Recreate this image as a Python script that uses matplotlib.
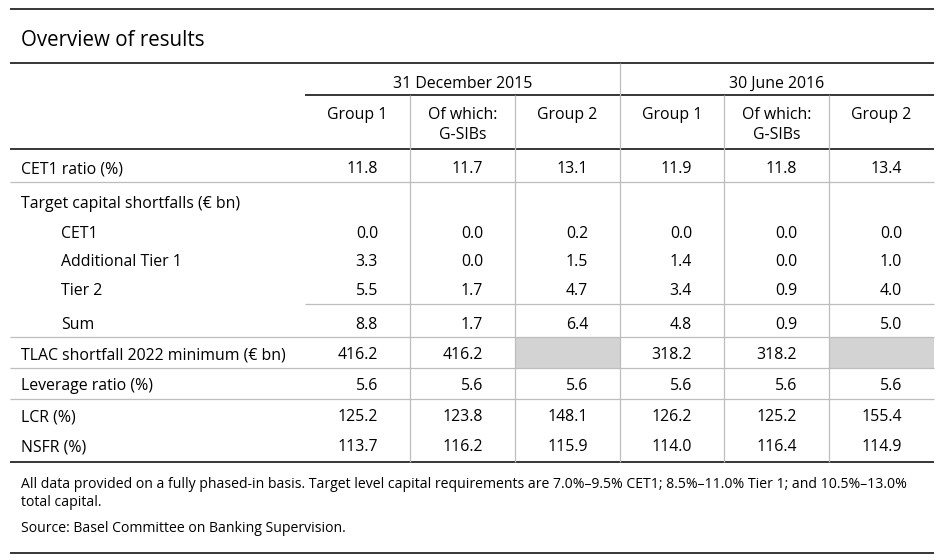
import matplotlib.pyplot as plt

plt.rcParams['font.family'] = ['Open Sans', 'DejaVu Sans']

# data
title = "Overview of results"
periods = ["31 December 2015", "30 June 2016"]
groups = ["Group 1", "Of which:\nG-SIBs", "Group 2"]
row_labels = ["CET1 ratio (%)", "Target capital shortfalls (€ bn)", "CET1",
              "Additional Tier 1", "Tier 2", "Sum",
              "TLAC shortfall 2022 minimum (€ bn)", "Leverage ratio (%)",
              "LCR (%)", "NSFR (%)"]
indented = [False, False, True, True, True, True, False, False, False, False]
cet1_ratio = [11.8, 11.7, 13.1, 11.9, 11.8, 13.4]
short_cet1 = [0.0, 0.0, 0.2, 0.0, 0.0, 0.0]
short_at1 = [3.3, 0.0, 1.5, 1.4, 0.0, 1.0]
short_tier2 = [5.5, 1.7, 4.7, 3.4, 0.9, 4.0]
short_sum = [8.8, 1.7, 6.4, 4.8, 0.9, 5.0]
tlac = [416.2, 416.2, None, 318.2, 318.2, None]
leverage = [5.6, 5.6, 5.6, 5.6, 5.6, 5.6]
lcr = [125.2, 123.8, 148.1, 126.2, 125.2, 155.4]
nsfr = [113.7, 116.2, 115.9, 114.0, 116.4, 114.9]
table_values = [cet1_ratio, [None] * 6, short_cet1, short_at1, short_tier2,
                short_sum, tlac, leverage, lcr, nsfr]
footnote = ["All data provided on a fully phased-in basis. Target level capital requirements are "
            "7.0%–9.5% CET1; 8.5%–11.0% Tier 1; and 10.5%–13.0%",
            "total capital."]
source = "Source: Basel Committee on Banking Supervision."

# layout (pixels)
left, right = 10, 934
col_edges = [305, 410, 515, 620, 724, 829, 934]
row_y = [169, 203.5, 233.5, 262.5, 291, 325, 355, 386, 417, 447]
grey = "#bdbdbd"
shade = "#d3d3d3"
fs = 11.4

fig = plt.figure(figsize=(9.42, 5.6), dpi=100)
ax = fig.add_axes([0, 0, 1, 1])
ax.set_xlim(0, 942)
ax.set_ylim(560, 0)
ax.axis('off')

# shaded (empty) cells
for r, vals in enumerate(table_values):
    if r == 6:
        for c, v in enumerate(vals):
            if v is None:
                ax.fill_between([col_edges[c], col_edges[c + 1]], 337, 368,
                                color=shade, lw=0, zorder=0)

# horizontal rules
for y in [9, 63, 149, 462, 553]:
    ax.hlines(y, left, right, color='black', lw=1.1)
ax.hlines(95, col_edges[0], right, color='black', lw=1.1)
for y in [182, 337, 368, 399]:
    ax.hlines(y, left, right, color=grey, lw=0.9)
ax.hlines(304, col_edges[0], right, color=grey, lw=0.9)

# vertical rules
for x in [410, 515, 724, 829]:
    ax.vlines(x, 95, 462, color=grey, lw=0.9)
ax.vlines(620, 63, 462, color=grey, lw=0.9)

ax.text(21, 41, title, fontsize=14.8, va='center', ha='left')

# headers
for p, period in enumerate(periods):
    x0, x1 = col_edges[p * 3], col_edges[p * 3 + 3]
    ax.text((x0 + x1) / 2, 84, period, fontsize=fs, ha='center', va='center')
    for g, grp in enumerate(groups):
        c = p * 3 + g
        for k, line in enumerate(grp.split("\n")):
            ax.text((col_edges[c] + col_edges[c + 1]) / 2, 115 + 20 * k, line,
                    fontsize=fs, ha='center', va='center')

# body
for r, (lab, vals) in enumerate(zip(row_labels, table_values)):
    ax.text(61 if indented[r] else 21, row_y[r], lab, fontsize=fs,
            ha='left', va='center')
    for c, v in enumerate(vals):
        if v is not None:
            ax.text(col_edges[c + 1] - 32, row_y[r], f"{v:.1f}", fontsize=fs,
                    ha='right', va='center')

for k, line in enumerate(footnote):
    ax.text(21, 485 + 18 * k, line, fontsize=10.1, ha='left', va='center')
ax.text(21, 529, source, fontsize=10.1, ha='left', va='center')

fig.savefig("out.png", dpi=100)
